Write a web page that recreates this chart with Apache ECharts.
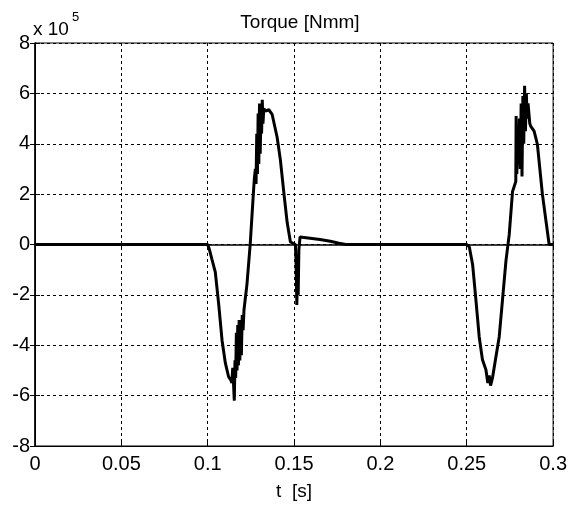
<!DOCTYPE html>
<html>
<head>
<meta charset="utf-8">
<script src="https://cdn.jsdelivr.net/npm/echarts@6/dist/echarts.min.js"></script>
<style>
    html, body { margin: 0; padding: 0; background: #fff; }
    #chart { width: 570px; height: 506px; }
</style>
</head>
<body>
<div id="chart"></div>
<script>
// time [s]
var tData = [
    0, 0.1, 0.1005, 0.101, 0.1025, 0.1044, 0.1064, 0.1083, 0.1102, 0.1121, 0.1135,
    0.114, 0.1145, 0.115, 0.1154, 0.1158, 0.1162, 0.1166, 0.117, 0.1174, 0.1178,
    0.1182, 0.1186, 0.119, 0.1195, 0.12, 0.1205, 0.121, 0.1227, 0.1246, 0.1266,
    0.127, 0.1276, 0.128, 0.1284, 0.1288, 0.1292, 0.1296, 0.13, 0.1304, 0.1308,
    0.1312, 0.1316, 0.132, 0.1325, 0.1335, 0.1354, 0.1373, 0.1402, 0.1421, 0.1441,
    0.146, 0.1479, 0.1508, 0.1512, 0.1516, 0.152, 0.1524, 0.1528, 0.1535, 0.1547,
    0.165, 0.171, 0.176, 0.18, 0.25, 0.2515, 0.2534, 0.2553, 0.2572, 0.2591,
    0.2611, 0.2622, 0.263, 0.2638, 0.2649, 0.2669, 0.2688, 0.2707, 0.2727, 0.2746,
    0.2765, 0.2784, 0.2786, 0.279, 0.2795, 0.28, 0.2805, 0.281, 0.2815, 0.282,
    0.2825, 0.283, 0.2835, 0.284, 0.2845, 0.285, 0.2855, 0.2865, 0.287, 0.289,
    0.2909, 0.2938, 0.2977, 0.3
];
// torque [x 10^5 Nmm]
var torque = [
    0, 0, -0.05, -0.2, -0.6, -1.1, -2.4, -3.8, -4.7, -5.25, -5.4,
    -5.5, -4.9, -5.6, -6.2, -4.6, -5.3, -3.5, -5.0, -3.2, -4.8,
    -3.0, -4.6, -3.6, -4.4, -2.8, -3.4, -2.6, -1.6, 0, 2.2,
    2.6, 3.0, 2.4, 4.4, 2.8, 5.2, 3.2, 5.6, 3.6, 5.0,
    4.4, 5.75, 4.8, 5.4, 5.3, 5.35, 5.17, 4.26, 3.35, 2.05,
    0.88, 0.1, 0, -0.8, -2.4, -1.2, -2.0, -0.2, 0.3, 0.29,
    0.2, 0.13, 0.05, 0, 0, -0.1, -0.8, -2.2, -3.66, -4.58,
    -4.97, -5.5, -5.2, -5.6, -5.3, -4.46, -3.66, -2.2, -0.65, 0.4,
    2.1, 2.5, 5.1, 2.8, 4.0, 3.2, 5.0, 3.0, 5.6, 2.7,
    5.9, 4.0, 6.3, 4.5, 6.0, 5.0, 5.6, 4.8, 4.7, 4.5,
    3.98, 2.0, 0, 0
];

var seriesData = tData.map(function (t, i) { return [t, torque[i]]; });

var chart = echarts.init(document.getElementById('chart'));

var font = 'Liberation Sans, Arial, sans-serif';
var gridDash = { color: '#000', width: 1, type: [3, 3] };

var option = {
    animation: false,
    backgroundColor: '#fff',
    title: {
        text: 'Torque [Nmm]',
        left: 295,
        top: 8,
        textAlign: 'center',
        textStyle: { color: '#000', fontSize: 19, fontWeight: 'normal', fontFamily: font }
    },
    grid: { left: 35, right: 15, top: 43, bottom: 57, show: true, borderColor: '#000', borderWidth: 1 },
    graphic: [{
        type: 'text',
        left: 33,
        top: 20,
        style: { text: 'x 10', fontSize: 19, fontFamily: font, fill: '#000' }
    }, {
        type: 'text',
        left: 72,
        top: 11,
        style: { text: '5', fontSize: 13, fontFamily: font, fill: '#000' }
    }],
    xAxis: [{
        type: 'value',
        min: 0,
        max: 0.3,
        interval: 0.05,
        name: 't  [s]',
        nameLocation: 'middle',
        nameGap: 36,
        nameTextStyle: { color: '#000', fontSize: 19, fontFamily: font },
        axisLine: { show: true, onZero: false, lineStyle: { color: '#000' } },
        axisTick: { show: true, inside: true, length: 5, lineStyle: { color: '#000' } },
        axisLabel: {
            color: '#000', fontSize: 20, fontFamily: font, margin: 8,
            formatter: function (v) { return String(+v.toFixed(2)); }
        },
        splitLine: { show: true, lineStyle: gridDash }
    }, {
        type: 'value',
        position: 'top',
        min: 0,
        max: 0.3,
        interval: 0.05,
        axisLine: { show: true, lineStyle: { color: '#000', width: 1.5 } },
        axisTick: { show: true, inside: true, length: 5, lineStyle: { color: '#000' } },
        axisLabel: { show: false },
        splitLine: { show: false }
    }],
    yAxis: [{
        type: 'value',
        min: -8,
        max: 8,
        interval: 2,
        axisLine: { show: true, onZero: false, lineStyle: { color: '#000', width: 1.5 } },
        axisTick: { show: true, inside: true, length: 5, lineStyle: { color: '#000' } },
        axisLabel: { color: '#000', fontSize: 20, fontFamily: font, margin: 5 },
        splitLine: { show: true, lineStyle: gridDash }
    }, {
        type: 'value',
        position: 'right',
        min: -8,
        max: 8,
        interval: 2,
        axisLine: { show: true, lineStyle: { color: '#000' } },
        axisTick: { show: true, inside: true, length: 5, lineStyle: { color: '#000' } },
        axisLabel: { show: false },
        splitLine: { show: false }
    }],
    series: [{
        type: 'line',
        xAxisIndex: 0,
        yAxisIndex: 0,
        data: seriesData,
        showSymbol: false,
        symbol: 'none',
        lineStyle: { color: '#000', width: 3 },
        z: 5
    }]
};

chart.setOption(option);
</script>
</body>
</html>
